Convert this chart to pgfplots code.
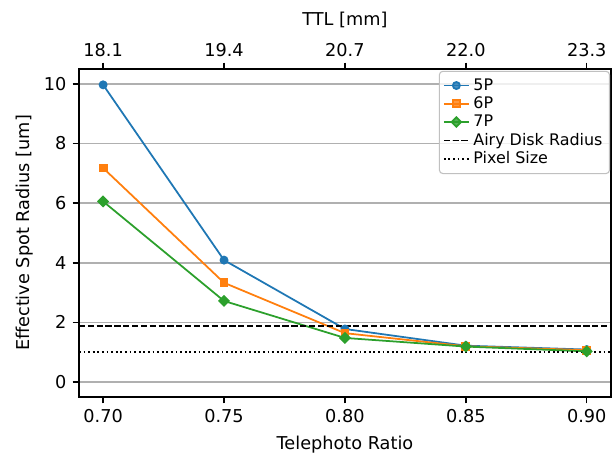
\documentclass[border=0pt]{standalone}
\usepackage{fontspec}
\setmainfont{DejaVu Sans}
\usepackage{pgfplots}
\pgfplotsset{compat=1.18}
\definecolor{tabblue}{HTML}{1F77B4}
\definecolor{taborange}{HTML}{FF7F0E}
\definecolor{tabgreen}{HTML}{2CA02C}
\definecolor{gridgray}{HTML}{B0B0B0}
\begin{document}
\begin{tikzpicture}
\begin{axis}[
  at={(0,0)}, anchor=south west,
  scale only axis, width=300.6pt, height=185.3pt,
  xmin=0.69, xmax=0.91, ymin=-0.5, ymax=10.5,
  xtick={0.70,0.75,0.80,0.85,0.90},
  xticklabels={0.70,0.75,0.80,0.85,0.90},
  ytick={0,2,4,6,8,10},
  ymajorgrids, grid style={gridgray, line width=0.9pt},
  axis line style={line width=0.9pt},
  tick style={black, line width=0.8pt},
  major tick length=3.6pt,
  tick align=outside, xtick pos=bottom, ytick pos=left,
  /pgf/number format/assume math mode=true,
  tick label style={font=\fontsize{10}{12}\selectfont},
  label style={font=\fontsize{10}{12}\selectfont},
  xlabel={Telephoto Ratio}, ylabel={Effective Spot Radius [um]},
  xlabel style={at={(axis description cs:0.5,0)}, anchor=center, yshift=-27.1pt},
  ylabel style={at={(axis description cs:-0.102,0.5)}, anchor=center},
  legend style={at={(1,1)}, anchor=north east, xshift=-0.5pt, yshift=-1pt,
    draw=gridgray!80, rounded corners=2pt, line width=0.6pt,
    font=\fontsize{9}{10.5}\selectfont, inner sep=2pt,
    row sep=-1.8pt, fill=white, fill opacity=0.8, text opacity=1},
  legend cell align=left,
  legend image code/.code={
    \draw[mark repeat=2,mark phase=2,#1] plot coordinates {(0cm,0cm) (0.25cm,0cm) (0.5cm,0cm)};},
]
\addplot[tabblue, line width=1pt, mark=*, mark size=2pt] coordinates {
  (0.70,9.97) (0.75,4.09) (0.80,1.78) (0.85,1.22) (0.90,1.09)};
\addlegendentry{5P}
\addplot[taborange, line width=1pt, mark=square*, mark size=2pt] coordinates {
  (0.70,7.18) (0.75,3.33) (0.80,1.64) (0.85,1.20) (0.90,1.07)};
\addlegendentry{6P}
\addplot[tabgreen, line width=1pt, mark=square*, mark size=1.9pt, mark options={rotate=45}] coordinates {
  (0.70,6.06) (0.75,2.72) (0.80,1.48) (0.85,1.19) (0.90,1.03)};
\addlegendentry{7P}
\addplot[black, line width=1pt, dash pattern=on 3.5pt off 1.5pt] coordinates {(0.69,1.88) (0.91,1.88)};
\addlegendentry{Airy Disk Radius}
\addplot[black, line width=1pt, dash pattern=on 1pt off 1.6pt] coordinates {(0.69,1.0) (0.91,1.0)};
\addlegendentry{Pixel Size}
\end{axis}
\begin{axis}[
  at={(0,0)}, anchor=south west,
  scale only axis, width=300.6pt, height=185.3pt,
  xmin=0.69, xmax=0.91, ymin=-0.5, ymax=10.5,
  axis x line*=top, axis y line=none,
  xtick={0.70,0.75,0.80,0.85,0.90},
  xticklabels={18.1,19.4,20.7,22.0,23.3},
  axis line style={line width=0.9pt},
  tick style={black, line width=0.8pt},
  major tick length=3.6pt, tick align=outside,
  /pgf/number format/assume math mode=true,
  tick label style={font=\fontsize{10}{12}\selectfont},
  label style={font=\fontsize{10}{12}\selectfont},
  xlabel={TTL [mm]},
  xlabel style={at={(axis description cs:0.5,1)}, anchor=center, yshift=27.7pt},
]
\end{axis}
\pgfresetboundingbox
\path[use as bounding box] (-44.6pt,-35.0pt) rectangle (301.2pt,224.3pt);
\end{tikzpicture}
\end{document}
